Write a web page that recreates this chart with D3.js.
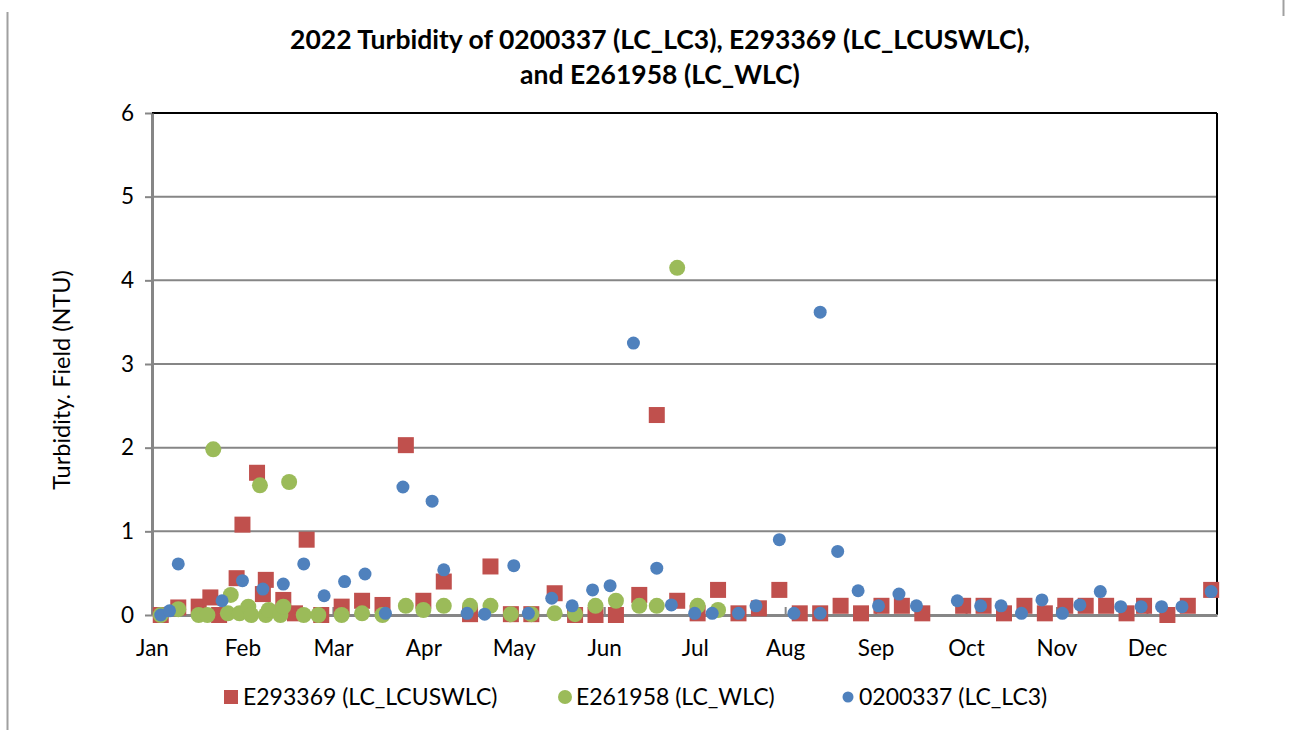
<!DOCTYPE html>
<html>
<head>
<meta charset="utf-8">
<script src="https://cdn.jsdelivr.net/npm/d3@7"></script>
<style>
  body { margin: 0; background: #fff; }
  svg { font-family: Lato, "Open Sans", sans-serif; }
</style>
</head>
<body>
<div id="chart"></div>
<script>
// chart size and plot margins
const FRAME_WIDTH = 1298;
const FRAME_HEIGHT = 730;
const MARGINS = {left: 152, right: 81, top: 113, bottom: 115};

const VIS_WIDTH = FRAME_WIDTH - MARGINS.left - MARGINS.right;
const VIS_HEIGHT = FRAME_HEIGHT - MARGINS.top - MARGINS.bottom;

// ---- data ----
const seriesNames = ["E293369 (LC_LCUSWLC)", "E261958 (LC_WLC)", "0200337 (LC_LC3)"];

// E293369 (LC_LCUSWLC)
const lcuswlcDates = ["2022-01-04","2022-01-10","2022-01-17","2022-01-21","2022-01-24","2022-01-30",
  "2022-02-01","2022-02-06","2022-02-08","2022-02-09","2022-02-15","2022-02-19","2022-02-23","2022-02-28",
  "2022-03-07","2022-03-14","2022-03-21","2022-03-29","2022-04-04","2022-04-11","2022-04-20","2022-04-27",
  "2022-05-04","2022-05-11","2022-05-19","2022-05-26","2022-06-02","2022-06-09","2022-06-17","2022-06-23",
  "2022-06-30","2022-07-07","2022-07-14","2022-07-21","2022-07-28","2022-08-04","2022-08-11","2022-08-18",
  "2022-08-25","2022-09-01","2022-09-08","2022-09-15","2022-09-22","2022-10-06","2022-10-13","2022-10-20",
  "2022-10-27","2022-11-03","2022-11-10","2022-11-17","2022-11-24","2022-12-01","2022-12-07","2022-12-15",
  "2022-12-22","2022-12-30"];
const lcuswlcValues = [0.00,0.09,0.10,0.21,0.00,0.44,
  1.08,1.70,0.25,0.42,0.18,0.02,0.90,0.00,
  0.10,0.17,0.12,2.03,0.17,0.40,0.01,0.58,
  0.01,0.01,0.26,0.00,0.00,0.00,0.24,2.39,
  0.17,0.02,0.30,0.02,0.08,0.30,0.02,0.02,
  0.11,0.02,0.11,0.11,0.02,0.11,0.11,0.02,
  0.11,0.02,0.11,0.11,0.11,0.02,0.11,0.00,
  0.11,0.30];

// E261958 (LC_WLC)
const wlcDates = ["2022-01-04","2022-01-10","2022-01-17","2022-01-20","2022-01-22","2022-01-27","2022-01-28",
  "2022-01-31","2022-02-03","2022-02-04","2022-02-07","2022-02-09","2022-02-10","2022-02-14","2022-02-15",
  "2022-02-17","2022-02-22","2022-02-27","2022-03-07","2022-03-14","2022-03-21","2022-03-29","2022-04-04",
  "2022-04-11","2022-04-20","2022-04-27","2022-05-04","2022-05-11","2022-05-19","2022-05-26","2022-06-02",
  "2022-06-09","2022-06-17","2022-06-23","2022-06-30","2022-07-07","2022-07-14"];
const wlcValues = [0.00,0.07,0.00,0.00,1.98,0.02,0.24,
  0.02,0.10,0.00,1.55,0.00,0.06,0.00,0.10,
  1.59,0.00,0.00,0.00,0.02,0.00,0.11,0.06,
  0.11,0.11,0.11,0.01,0.01,0.02,0.01,0.11,
  0.17,0.11,0.11,4.15,0.11,0.06];

// 0200337 (LC_LC3)
const lc3Dates = ["2022-01-04","2022-01-07","2022-01-10","2022-01-25","2022-02-01","2022-02-08","2022-02-15",
  "2022-02-22","2022-03-01","2022-03-08","2022-03-15","2022-03-22","2022-03-28","2022-04-07","2022-04-11",
  "2022-04-19","2022-04-25","2022-05-05","2022-05-10","2022-05-18","2022-05-25","2022-06-01","2022-06-07",
  "2022-06-15","2022-06-23","2022-06-28","2022-07-06","2022-07-12","2022-07-21","2022-07-27","2022-08-04",
  "2022-08-09","2022-08-18","2022-08-18","2022-08-24","2022-08-31","2022-09-07","2022-09-14","2022-09-20",
  "2022-10-04","2022-10-12","2022-10-19","2022-10-26","2022-11-02","2022-11-09","2022-11-15","2022-11-22",
  "2022-11-29","2022-12-06","2022-12-13","2022-12-20","2022-12-30"];
const lc3Values = [0.00,0.05,0.61,0.17,0.41,0.31,0.37,
  0.61,0.23,0.40,0.49,0.02,1.53,1.36,0.54,
  0.02,0.01,0.59,0.02,0.20,0.11,0.30,0.35,
  3.25,0.56,0.12,0.02,0.02,0.02,0.11,0.90,
  0.02,3.62,0.02,0.76,0.29,0.11,0.25,0.11,
  0.17,0.11,0.11,0.02,0.18,0.02,0.12,0.28,
  0.10,0.10,0.10,0.10,0.28];

const yTicks = [0, 1, 2, 3, 4, 5, 6];
const titleLines = ["2022 Turbidity of 0200337 (LC_LC3), E293369 (LC_LCUSWLC),", "and E261958 (LC_WLC)"];
const yTitle = "Turbidity. Field (NTU)";

const parseDate = d3.timeParse("%Y-%m-%d");
const zipSeries = (dates, vals) => dates.map((d, i) => ({date: parseDate(d), value: vals[i]}));

const series = [
  {name: seriesNames[0], data: zipSeries(lcuswlcDates, lcuswlcValues), color: "#C0504D", shape: "square"},
  {name: seriesNames[1], data: zipSeries(wlcDates, wlcValues), color: "#9BBB59", shape: "circle", r: 8},
  {name: seriesNames[2], data: zipSeries(lc3Dates, lc3Values), color: "#4F81BD", shape: "circle", r: 6.5}
];

const svg = d3.select("#chart")
  .append("svg")
    .attr("width", FRAME_WIDTH)
    .attr("height", FRAME_HEIGHT);

// outer frame bits of the chart area
svg.append("line").attr("x1", 7.5).attr("x2", 7.5).attr("y1", 12).attr("y2", FRAME_HEIGHT)
  .attr("stroke", "#a0a0a0").attr("stroke-width", 2);
svg.append("line").attr("x1", 1283.5).attr("x2", 1283.5).attr("y1", 0).attr("y2", 16)
  .attr("stroke", "#a0a0a0").attr("stroke-width", 2);

const FRAME = svg.append("g")
  .attr("transform", "translate(" + MARGINS.left + "," + MARGINS.top + ")");

// scales
const start = parseDate("2022-01-01");
const xScale = d3.scaleTime()
  .domain([start, parseDate("2023-01-01")])
  .range([0, VIS_WIDTH]);

const yScale = d3.scaleLinear()
  .domain([0, 6])
  .range([VIS_HEIGHT, 0]);

// gridlines
FRAME.append("g")
  .selectAll("line")
  .data(yTicks.slice(1, -1))
  .enter()
  .append("line")
    .attr("x1", 0).attr("x2", VIS_WIDTH)
    .attr("y1", d => yScale(d)).attr("y2", d => yScale(d))
    .attr("stroke", "#868686").attr("stroke-width", 2);

// top and right borders
FRAME.append("line").attr("x1", 0).attr("x2", VIS_WIDTH).attr("y1", 0).attr("y2", 0)
  .attr("stroke", "#000").attr("stroke-width", 2);
FRAME.append("line").attr("x1", VIS_WIDTH).attr("x2", VIS_WIDTH).attr("y1", 0).attr("y2", VIS_HEIGHT)
  .attr("stroke", "#000").attr("stroke-width", 2);

// x axis: excel style ticks every 31 days from Jan 1
const xTickVals = d3.range(12).map(i => d3.timeDay.offset(start, 31 * i));
const xAxis = FRAME.append("g")
  .attr("transform", "translate(0," + VIS_HEIGHT + ")")
  .call(d3.axisBottom(xScale)
    .tickValues(xTickVals)
    .tickFormat(d3.timeFormat("%b"))
    .tickSizeInner(-8)
    .tickSizeOuter(0)
    .tickPadding(25));
xAxis.select(".domain").attr("stroke", "#868686").attr("stroke-width", 3);
xAxis.selectAll(".tick line").attr("stroke", "#868686").attr("stroke-width", 2);
xAxis.selectAll(".tick text").attr("font-size", 22.5).attr("fill", "#000")
  .attr("font-family", "Lato, sans-serif");

// y axis
const yAxis = FRAME.append("g")
  .call(d3.axisLeft(yScale)
    .tickValues(yTicks)
    .tickFormat(d3.format("d"))
    .tickSizeInner(7)
    .tickSizeOuter(0)
    .tickPadding(11));
yAxis.select(".domain").attr("stroke", "#868686").attr("stroke-width", 3);
yAxis.selectAll(".tick line").attr("stroke", "#868686").attr("stroke-width", 2);
yAxis.selectAll(".tick text").attr("font-size", 22.5).attr("fill", "#000")
  .attr("font-family", "Lato, sans-serif");

// points, one group per series
series.forEach(function(s) {
  const g = FRAME.append("g");
  if (s.shape === "square") {
    g.selectAll("rect")
      .data(s.data)
      .enter()
      .append("rect")
        .attr("x", d => xScale(d.date) - 8)
        .attr("y", d => yScale(d.value) - 8)
        .attr("width", 16)
        .attr("height", 16)
        .attr("fill", s.color);
  } else {
    g.selectAll("circle")
      .data(s.data)
      .enter()
      .append("circle")
        .attr("cx", d => xScale(d.date))
        .attr("cy", d => yScale(d.value))
        .attr("r", s.r)
        .attr("fill", s.color);
  }
});

// title
svg.append("text")
  .attr("x", 660)
  .attr("y", 49)
  .attr("text-anchor", "middle")
  .attr("font-size", 26.5)
  .attr("font-weight", "bold")
  .selectAll("tspan")
  .data(titleLines)
  .enter()
  .append("tspan")
    .attr("x", 660)
    .attr("dy", (d, i) => i === 0 ? 0 : 35)
    .text(d => d);

// y axis title
svg.append("text")
  .attr("transform", "translate(70," + (MARGINS.top + VIS_HEIGHT / 2 + 16) + ") rotate(-90)")
  .attr("text-anchor", "middle")
  .attr("font-size", 23.5)
  .text(yTitle);

// legend
const legendX = [224, 557, 840];
const legend = svg.append("g");
series.forEach(function(s, i) {
  const lg = legend.append("g").attr("transform", "translate(" + legendX[i] + ",697)");
  if (s.shape === "square") {
    lg.append("rect").attr("x", 0).attr("y", -7).attr("width", 14).attr("height", 14).attr("fill", s.color);
  } else {
    lg.append("circle").attr("cx", 8).attr("cy", 0).attr("r", i === 1 ? 7 : 5.5).attr("fill", s.color);
  }
  lg.append("text")
    .attr("x", 19)
    .attr("y", 8)
    .attr("font-size", 23)
    .text(s.name);
});
</script>
</body>
</html>
